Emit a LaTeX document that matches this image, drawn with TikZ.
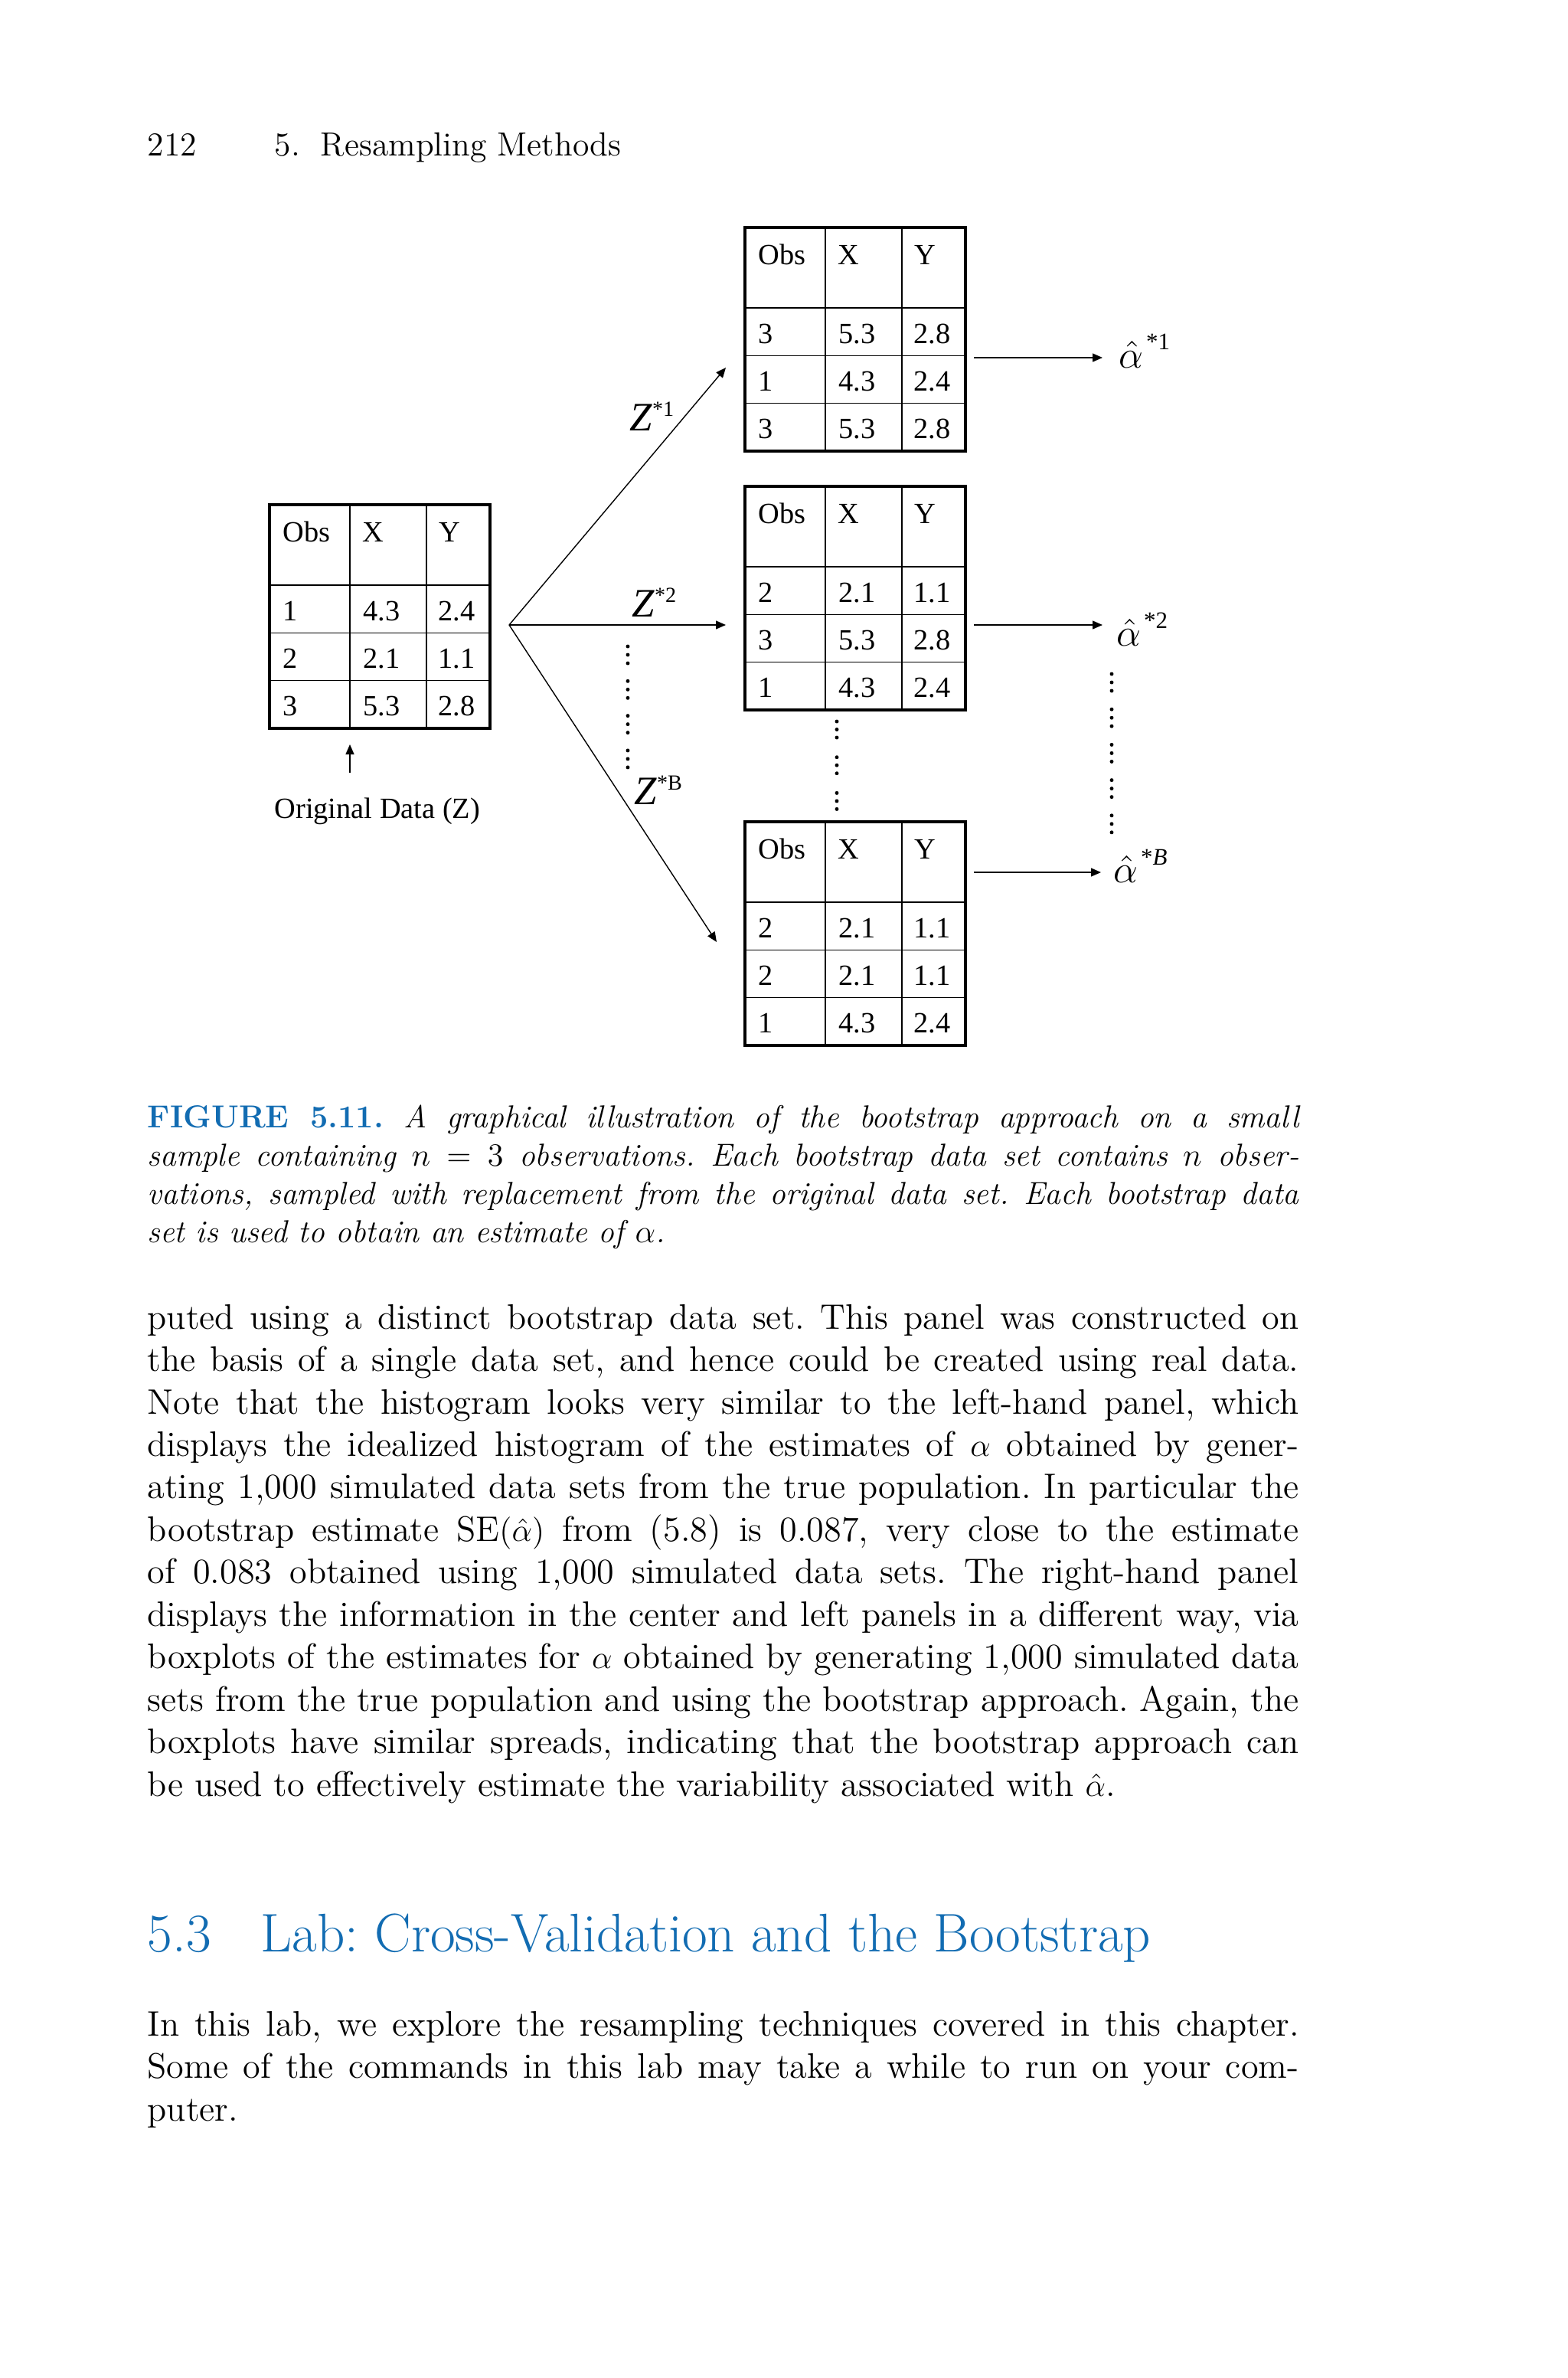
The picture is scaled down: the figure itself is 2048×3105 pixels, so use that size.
\documentclass[tikz,border=0pt]{standalone}
\usepackage{fontspec}
\usepackage{amsmath}
\usetikzlibrary{arrows.meta}
\newfontfamily\tms{Liberation Serif}
\definecolor{springblue}{RGB}{18,108,178}
\frenchspacing
\tikzset{
  tblframe/.style={draw, line width=1.05pt, minimum width=2.88cm, minimum height=2.92cm,
    inner sep=0pt, outer sep=0pt, anchor=north west},
  cellrule/.style={line width=0.45pt},
  celltxt/.style={anchor=base west, inner sep=0pt, font=\tms\fontsize{10.9}{12}\selectfont},
  arr/.style={-{Triangle[length=0.13cm,width=0.11cm]}, line width=0.4pt},
  zlabel/.style={anchor=base west, inner sep=0pt, font=\tms\itshape\fontsize{15}{16}\selectfont},
  alabel/.style={anchor=base west, inner sep=0pt, font=\fontsize{15}{16}\selectfont},
  para/.style={anchor=base west, inner sep=0pt, text width=15.03cm, align=justify,
    font=\fontsize{13.15}{15.78}\selectfont},
}
% one data table: name, left, top, rows obs/x/y
\newcommand{\obstable}[4]{%
  \begin{scope}[shift={(#2,#3)}]
    \node[tblframe] (#1) at (0,0) {};
    \draw[cellrule] (105,0) -- (105,292) (205,0) -- (205,292);
    \foreach \yy in {105,167.3,229.6} \draw[cellrule] (0,\yy) -- (288,\yy);
    \node[celltxt] (#1-obs) at (17,48) {Obs};
    \node[celltxt] (#1-x) at (121,48) {X};
    \node[celltxt] (#1-y) at (221,48) {Y};
    \foreach \vo/\vx/\vy [count=\r] in {#4} {
      \node[celltxt] (#1-o\r) at (17,{105+62.3*(\r-1)+46}) {\vo};
      \node[celltxt] (#1-x\r) at (122,{105+62.3*(\r-1)+46}) {\vx};
      \node[celltxt] (#1-y\r) at (220,{105+62.3*(\r-1)+46}) {\vy};
    }
  \end{scope}}
\newcommand{\zsup}[1]{\raisebox{0.19cm}{\upshape\fontsize{8}{9}\selectfont *#1}}
\newcommand{\asup}[1]{\hspace{1pt}\raisebox{0.23cm}{\tms\fontsize{8.8}{10}\selectfont *#1}}

\begin{document}
\begin{tikzpicture}[x=0.01cm, y=-0.01cm]
  \useasboundingbox (0,0) rectangle (2048,3105);
  % running head
  \node[anchor=base west, inner sep=0pt, font=\fontsize{12.4}{14}\selectfont] (pgno) at (192,203) {212};
  \node[anchor=base west, inner sep=0pt, font=\fontsize{12.4}{14}\selectfont] (runhead) at (358,203)
    {5.\hspace{0.27cm}Resampling Methods};

  % original data and bootstrap samples
  \obstable{orig}{352}{659}{1/4.3/2.4, 2/2.1/1.1, 3/5.3/2.8}
  \obstable{bs1}{973}{297}{3/5.3/2.8, 1/4.3/2.4, 3/5.3/2.8}
  \obstable{bs2}{973}{635}{2/2.1/1.1, 3/5.3/2.8, 1/4.3/2.4}
  \obstable{bsB}{973}{1073}{2/2.1/1.1, 2/2.1/1.1, 1/4.3/2.4}

  \node[celltxt] (origlbl) at (358,1068) {Original Data (Z)};
  \coordinate (up0) at (457,1009);
  \coordinate (up1) at (457,972);
  \draw[arr] (up0) -- (up1);

  % fan of resamples
  \coordinate (fan) at (665,816);
  \coordinate (z1end) at (948,480);
  \coordinate (z2end) at (948,816);
  \coordinate (zBend) at (936,1230);
  \draw[arr] (fan) -- (z1end);
  \draw[arr] (fan) -- (z2end);
  \draw[arr] (fan) -- (zBend);
  \node[zlabel] (z1) at (822,562) {Z\zsup{1}};
  \node[zlabel] (z2) at (825,805) {Z\zsup{2}};
  \node[zlabel] (zB) at (828,1050) {Z\zsup{B}};

  % estimates
  \coordinate (e1s) at (1272,467);  \coordinate (e1e) at (1440,467);
  \coordinate (e2s) at (1272,816);  \coordinate (e2e) at (1440,816);
  \coordinate (eBs) at (1272,1139); \coordinate (eBe) at (1438,1139);
  \draw[arr] (e1s) -- (e1e);
  \draw[arr] (e2s) -- (e2e);
  \draw[arr] (eBs) -- (eBe);
  \node[alabel] (ahat1) at (1461,480) {$\hat{\alpha}$\asup{1}};
  \node[alabel] (ahat2) at (1458,843) {$\hat{\alpha}$\asup{2}};
  \node[alabel] (ahatB) at (1454,1152) {$\hat{\alpha}$\asup{\itshape B}};

  % vertical dots
  \foreach \g in {0,...,3} \foreach \k in {0,1,2}
    \fill (820,{844+45.3*\g+11*\k}) circle (0.7pt);
  \foreach \g in {0,1,2} \foreach \k in {0,1,2}
    \fill (1093,{942+46.7*\g+10.5*\k}) circle (0.7pt);
  \foreach \g in {0,...,4} \foreach \k in {0,1,2}
    \fill (1452,{880+46.2*\g+11*\k}) circle (0.7pt);

  % caption
  \node[para, font=\fontsize{11.8}{14.26}\selectfont\itshape] (caption) at (192,1472)
    {{\upshape\bfseries\color{springblue}FIGURE 5.11.} A graphical illustration of the bootstrap approach on a small\linebreak
     sample containing $n=3$ observations. Each bootstrap data set contains $n$ obser-\linebreak
     vations, sampled with replacement from the original data set. Each bootstrap data\linebreak
     set is used to obtain an estimate of $\alpha$.};

  % body text
  \node[para] (body) at (192,1735)
    {puted using a distinct bootstrap data set. This panel was constructed on\linebreak
     the basis of a single data set, and hence could be created using real data.\linebreak
     Note that the histogram looks very similar to the left-hand panel, which\linebreak
     displays the idealized histogram of the estimates of $\alpha$ obtained by gener-\linebreak
     ating 1,000 simulated data sets from the true population. In particular the\linebreak
     bootstrap estimate SE$(\hat{\alpha})$ from (5.8) is 0.087, very close to the estimate\linebreak
     of 0.083 obtained using 1,000 simulated data sets. The right-hand panel\linebreak
     displays the information in the center and left panels in a different way, via\linebreak
     boxplots of the estimates for $\alpha$ obtained by generating 1,000 simulated data\linebreak
     sets from the true population and using the bootstrap approach. Again, the\linebreak
     boxplots have similar spreads, indicating that the bootstrap approach can\linebreak
     be used to effectively estimate the variability associated with $\hat{\alpha}$.};

  % section heading
  \node[anchor=base west, inner sep=0pt, text=springblue, font=\fontsize{20.2}{24}\selectfont] (secno) at (192,2548) {5.3};
  \node[anchor=base west, inner sep=0pt, text=springblue, font=\fontsize{20.2}{24}\selectfont] (sectitle) at (340,2548)
    {Lab: Cross-Validation and the Bootstrap};

  \node[para] (labtext) at (192,2658)
    {In this lab, we explore the resampling techniques covered in this chapter.\linebreak
     Some of the commands in this lab may take a while to run on your com-\linebreak
     puter.};
\end{tikzpicture}
\end{document}
